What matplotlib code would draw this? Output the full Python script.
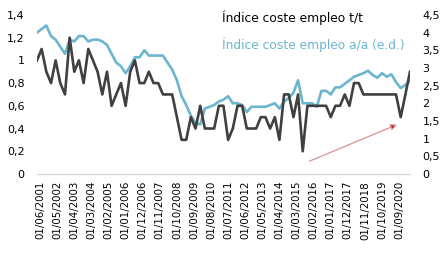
import matplotlib
matplotlib.use("Agg")
import matplotlib.pyplot as plt
import pandas as pd

# quarterly series, 2001Q2 .. 2021Q2
fechas = pd.date_range("2001-04-01", periods=81, freq="QS")

coste_tt = [1.0, 1.1, 0.9, 0.8, 1.0, 0.8, 0.7, 1.2, 0.9, 1.0,
            0.8, 1.1, 1.0, 0.9, 0.7, 0.9, 0.6, 0.7, 0.8, 0.6,
            0.9, 1.0, 0.8, 0.8, 0.9, 0.8, 0.8, 0.7, 0.7, 0.7,
            0.5, 0.3, 0.3, 0.5, 0.4, 0.6, 0.4, 0.4, 0.4, 0.6,
            0.6, 0.3, 0.4, 0.6, 0.6, 0.4, 0.4, 0.4, 0.5, 0.5,
            0.4, 0.5, 0.3, 0.7, 0.7, 0.5, 0.7, 0.2, 0.6, 0.6,
            0.6, 0.6, 0.6, 0.5, 0.6, 0.6, 0.7, 0.6, 0.8, 0.8,
            0.7, 0.7, 0.7, 0.7, 0.7, 0.7, 0.7, 0.7, 0.5, 0.7,
            0.9]

coste_aa = [4.0, 4.1, 4.2, 3.9, 3.8, 3.6, 3.4, 3.8, 3.75, 3.9,
            3.9, 3.75, 3.8, 3.8, 3.75, 3.65, 3.4, 3.15, 3.05, 2.85,
            3.05, 3.3, 3.3, 3.5, 3.35, 3.35, 3.35, 3.35, 3.15, 2.95,
            2.65, 2.2, 1.95, 1.65, 1.45, 1.4, 1.85, 1.9, 1.95, 2.05,
            2.1, 2.2, 2.0, 2.0, 1.95, 1.75, 1.9, 1.9, 1.9, 1.9,
            1.95, 2.0, 1.85, 2.05, 2.15, 2.3, 2.65, 2.0, 2.0, 2.0,
            1.9, 2.35, 2.35, 2.25, 2.45, 2.45, 2.55, 2.65, 2.75, 2.8,
            2.85, 2.92, 2.8, 2.72, 2.85, 2.75, 2.82, 2.6, 2.43, 2.52,
            2.62]

ticks_x = pd.date_range("2001-06-01", periods=22, freq="11MS")
izq_ticks = [0, 0.2, 0.4, 0.6, 0.8, 1, 1.2, 1.4]
der_ticks = [0, 0.5, 1, 1.5, 2, 2.5, 3, 3.5, 4, 4.5]


def coma(v):
    s = ("%g" % v)
    return s.replace(".", ",")


fig = plt.figure(figsize=(4.43, 2.66), dpi=100)
ax = fig.add_axes([0.0835, 0.346, 0.842, 0.598])
ax2 = ax.twinx()

ax.plot(fechas, coste_tt, color="#404040", lw=1.9, zorder=3)
ax2.plot(fechas, coste_aa, color="#6cb5cf", lw=1.9)
ax.set_zorder(ax2.get_zorder() + 1)
ax.patch.set_visible(False)

ax.set_xlim(fechas[0], fechas[-1])
ax.set_ylim(0, 1.4)
ax2.set_ylim(0, 4.5)

ax.set_yticks(izq_ticks)
ax.set_yticklabels([coma(v) for v in izq_ticks])
ax2.set_yticks(der_ticks)
ax2.set_yticklabels([coma(v) for v in der_ticks])
ax.set_xticks(ticks_x)
ax.set_xticklabels([d.strftime("%d/%m/%Y") for d in ticks_x], rotation=90)

for a in (ax, ax2):
    for s in a.spines.values():
        s.set_visible(False)
    a.tick_params(length=0, labelsize=8, colors="#000000")
ax.spines["bottom"].set_visible(True)
ax.spines["bottom"].set_color("#d9d9d9")
ax.spines["bottom"].set_linewidth(1.0)
ax.tick_params(axis="y", pad=9)
ax.tick_params(axis="x", pad=5, labelsize=7.4)
ax2.tick_params(axis="y", pad=9)

ax.text(0.497, 0.985, "Índice coste empleo t/t", transform=ax.transAxes,
        fontsize=8.8, color="#000000", va="center", ha="left")
ax.text(0.497, 0.815, "Índice coste empleo a/a (e.d.)", transform=ax.transAxes,
        fontsize=8.8, color="#6cb5cf", va="center", ha="left")

# flecha de tendencia
ax.annotate("", xy=(0.965, 0.31), xytext=(0.73, 0.08), xycoords="axes fraction",
            arrowprops=dict(arrowstyle="-|>", ec="#dc9090", fc="#c00000", lw=0.9,
                            mutation_scale=9, shrinkA=0, shrinkB=0))

fig.savefig("out.png", dpi=100)
